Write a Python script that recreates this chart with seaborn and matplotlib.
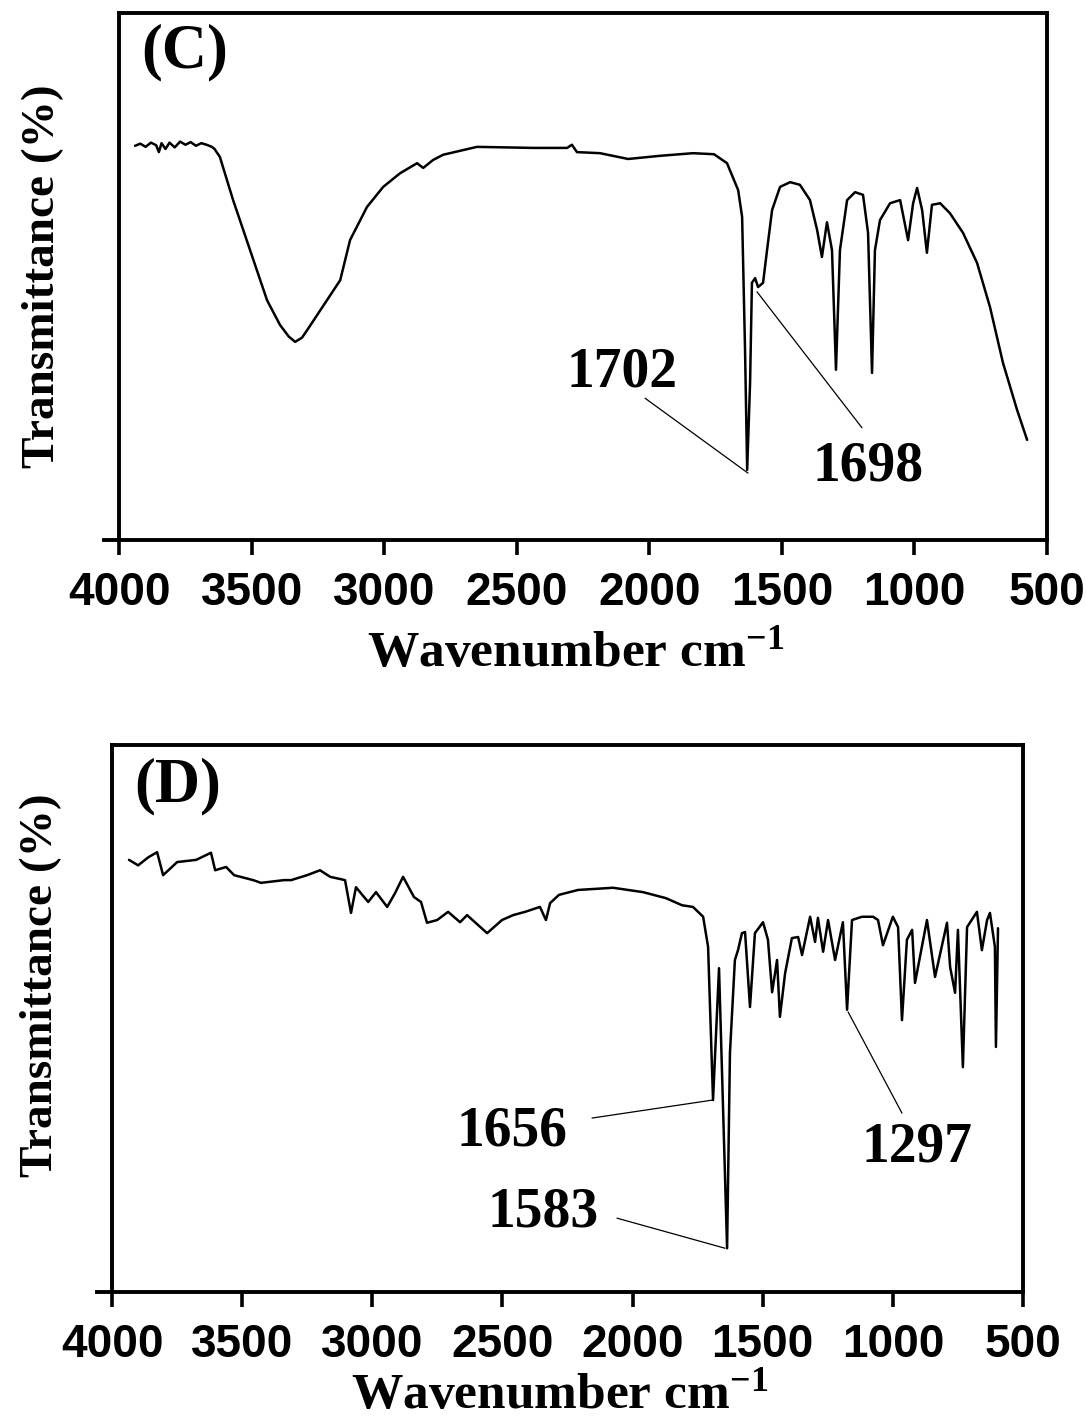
import matplotlib
matplotlib.use("Agg")
import matplotlib.pyplot as plt
import seaborn as sns
import pandas as pd

# FTIR spectra, panels (C) and (D)
c_wavenumber = [3940, 3920, 3900, 3880, 3860, 3850, 3840, 3825, 3810, 3790,
                3770, 3750, 3730, 3710, 3690, 3670, 3650, 3640, 3620, 3570,
                3506, 3442, 3393, 3360, 3336, 3310, 3291, 3216, 3166, 3129,
                3065, 3004, 2940, 2876, 2853, 2816, 2778, 2650, 2439, 2310,
                2292, 2273, 2186, 2080, 1960, 1835, 1756, 1707, 1665, 1650,
                1639, 1631, 1620, 1613, 1601, 1590, 1571, 1556, 1537, 1507,
                1469, 1432, 1394, 1367, 1349, 1330, 1311, 1296, 1281, 1254,
                1224, 1194, 1175, 1160, 1149, 1130, 1092, 1054, 1024, 1005,
                990, 971, 953, 934, 903, 866, 817, 764, 715, 666, 613, 575]
c_transmittance = [74.8, 75.2, 74.6, 75.4, 74.9, 73.6, 75.3, 74.2, 75.4, 74.5,
                   75.6, 75.0, 75.5, 74.8, 75.3, 75.0, 74.6, 74.2, 72.7, 64.5,
                   55.0, 45.5, 40.8, 38.6, 37.6, 38.4, 39.8, 45.5, 49.3, 56.9,
                   63.2, 67.0, 69.6, 71.5, 70.6, 72.1, 73.1, 74.6, 74.4, 74.4,
                   75.0, 73.6, 73.4, 72.3, 72.9, 73.4, 73.2, 71.5, 66.4, 61.3,
                   36.1, 13.3, 29.8, 48.8, 49.7, 48.0, 48.8, 55.0, 62.6, 67.0,
                   67.9, 67.4, 64.5, 58.8, 53.7, 60.3, 55.0, 32.3, 55.0, 64.5,
                   66.0, 65.5, 58.3, 31.7, 55.0, 60.7, 63.9, 64.5, 56.9, 63.9,
                   66.8, 62.6, 54.5, 63.6, 63.9, 62.0, 58.3, 52.6, 44.2, 33.6,
                   24.7, 19.0]

d_wavenumber = [3935, 3900, 3860, 3827, 3804, 3750, 3677, 3620, 3604, 3562,
                3531, 3458, 3428, 3339, 3312, 3251, 3201, 3162, 3105, 3082,
                3063, 3016, 2986, 2943, 2913, 2882, 2840, 2813, 2790, 2751,
                2709, 2663, 2636, 2559, 2502, 2459, 2413, 2356, 2333, 2317,
                2283, 2210, 2075, 1960, 1872, 1810, 1768, 1729, 1710, 1691,
                1668, 1637, 1626, 1607, 1595, 1580, 1568, 1549, 1530, 1499,
                1480, 1464, 1445, 1434, 1414, 1388, 1364, 1349, 1318, 1299,
                1288, 1268, 1249, 1222, 1192, 1176, 1157, 1119, 1076, 1057,
                1038, 1000, 980, 965, 946, 926, 915, 869, 838, 792,
                780, 761, 750, 731, 715, 677, 658, 638, 627, 608,
                604, 596]
d_transmittance = [79.0, 78.0, 79.5, 80.4, 76.2, 78.6, 79.0, 80.3, 77.1, 77.7,
                   76.2, 75.3, 74.8, 75.3, 75.3, 76.2, 77.1, 75.9, 75.3, 69.3,
                   74.0, 71.3, 73.1, 70.4, 72.9, 75.9, 72.2, 71.3, 67.5, 68.0,
                   69.5, 67.6, 68.9, 65.6, 68.0, 68.9, 69.5, 70.4, 68.0, 71.1,
                   72.6, 73.5, 73.9, 73.1, 72.0, 70.7, 70.4, 68.6, 63.1, 35.1,
                   59.2, 8.0, 43.7, 60.7, 62.5, 65.6, 65.8, 52.1, 65.6, 67.6,
                   64.4, 54.8, 60.7, 50.3, 58.3, 64.7, 64.9, 61.6, 68.6, 64.0,
                   68.4, 62.2, 68.0, 60.7, 67.6, 51.6, 68.0, 68.6, 68.6, 68.0,
                   63.4, 68.6, 66.7, 49.7, 64.4, 66.2, 56.5, 68.0, 57.6, 67.5,
                   59.4, 54.7, 66.2, 41.1, 66.7, 69.5, 62.5, 68.0, 69.3, 63.1,
                   44.8, 66.5]

xtick_values = [4000, 3500, 3000, 2500, 2000, 1500, 1000, 500]
xtick_labels = ['4000', '3500', '3000', '2500', '2000', '1500', '1000', '500']

# peak labels: text, text position, leader line start, leader line end
c_peak_labels = ['1702', '1698']
c_label_pos = [(2103, 31.7), (1175, 13.9)]
c_line_start = [(2016, 26.9), (1594, 47.1)]
c_line_end = [(1628, 12.7), (1198, 21.3)]

d_peak_labels = ['1656', '1583', '1297']
d_label_pos = [(2463, 29.4), (2344, 14.6), (907, 26.5)]
d_line_start = [(2156, 31.8), (2060, 13.5), (1172, 51.2)]
d_line_end = [(1691, 35.1), (1645, 8.0), (965, 32.7)]

sns.set_style("white")
plt.rcParams['font.family'] = ['Liberation Serif', 'DejaVu Serif']
plt.rcParams['mathtext.fontset'] = 'custom'
plt.rcParams['mathtext.rm'] = 'Liberation Serif:bold'
plt.rcParams['mathtext.default'] = 'rm'
plt.rcParams['text.color'] = 'black'
plt.rcParams['axes.labelcolor'] = 'black'
plt.rcParams['xtick.color'] = 'black'
plt.rcParams['axes.edgecolor'] = 'black'

W, H = 1086, 1427
fig = plt.figure(figsize=(W / 100, H / 100), dpi=100)
ax_c = fig.add_axes([104 / W, 1 - 540 / H, (1047 - 104) / W, 527 / H])
ax_d = fig.add_axes([97 / W, 1 - 1292 / H, (1023 - 97) / W, 547 / H])


def draw_panel(ax, wn, tr, panel, labels, pos, starts, ends, left_extra,
               ylab_x, ylab_y, xlab_pad):
    df = pd.DataFrame({'wavenumber': wn, 'transmittance': tr})
    sns.lineplot(data=df, x='wavenumber', y='transmittance', ax=ax,
                 color='black', linewidth=1.8, estimator=None)

    ax.set_xlim(4000 + left_extra, 500)
    ax.set_ylim(0, 100)
    ax.spines['left'].set_position(('data', 4000))
    ax.spines['top'].set_bounds(4000, 500)
    for s in ax.spines.values():
        s.set_linewidth(2.8)
        s.set_color('black')

    ax.set_xticks(xtick_values)
    ax.set_xticklabels(xtick_labels, fontfamily='Liberation Sans',
                       fontweight='bold', fontsize=33)
    ax.set_yticks([])
    ax.tick_params(axis='x', direction='out', length=11, width=2.6,
                   pad=11, bottom=True, color='black', labelcolor='black')

    ax.set_xlabel('Wavenumber cm$^{-1}$', fontsize=37, fontweight='bold',
                  labelpad=xlab_pad)
    ax.set_ylabel('Transmittance (%)', fontsize=34, fontweight='bold')
    ax.yaxis.set_label_coords(ylab_x, ylab_y)

    ax.text(0.04, 0.925, panel, transform=ax.transAxes, fontsize=45,
            fontweight='bold', ha='left', va='center')

    for lab, p, s, e in zip(labels, pos, starts, ends):
        ax.annotate('', xy=e, xytext=s,
                    arrowprops=dict(arrowstyle='-', color='black', lw=0.9,
                                    shrinkA=0, shrinkB=0))
        ax.text(p[0], p[1], lab, fontsize=40, fontweight='bold',
                ha='center', va='center')


draw_panel(ax_c, c_wavenumber, c_transmittance, '(C)', c_peak_labels,
           c_label_pos, c_line_start, c_line_end, 57, -0.042, 0.5, 12)
draw_panel(ax_d, d_wavenumber, d_transmittance, '(D)', d_peak_labels,
           d_label_pos, d_line_start, d_line_end, 58, -0.038, 0.56, 5)

fig.savefig('out.png', dpi=100)
